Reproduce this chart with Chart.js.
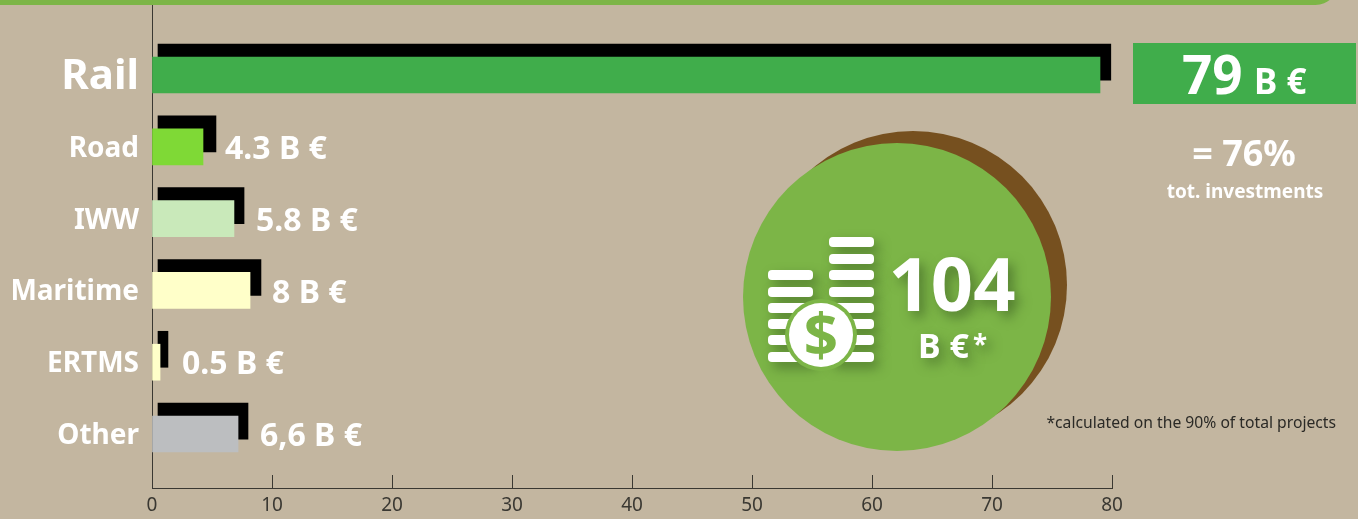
<!DOCTYPE html>
<html>
<head>
<meta charset="utf-8">
<title>Investments</title>
<script src="https://cdn.jsdelivr.net/npm/chart.js@4/dist/chart.umd.min.js"></script>
<style>
  html, body { margin: 0; padding: 0; background: #c3b6a0; overflow: hidden; }
  canvas { display: block; }
</style>
</head>
<body>
<canvas id="chart" width="1358" height="519"></canvas>
<script>
const categories = ['Rail', 'Road', 'IWW', 'Maritime', 'ERTMS', 'Other'];
const barValues = [79, 4.25, 6.83, 8.17, 0.67, 7.17];
const shadowStart = [0.5, 0.5, 0.5, 0.5, 0.5, 0.5];
const shadowEnd = [79.9, 5.33, 7.67, 9.08, 1.33, 8];
const valueLabels = ['', '4.3 B €', '5.8 B €', '8 B €', '0.5 B €', '6,6 B €'];
const barColors = ['#40ad4b', '#7fd936', '#c9e9ba', '#ffffc9', '#ffffc9', '#bcbec0'];
const xTicks = [0, 10, 20, 30, 40, 50, 60, 70, 80];

const FONT = '"Noto Sans", sans-serif';
const shadowShift = -0.18; // black bar sits a bit above the colored one

// band, circle, box and side texts around the plot
const backdrop = {
  id: 'backdrop',
  beforeDatasetsDraw(chart) {
    const c = chart.ctx;
    c.save();
    c.fillStyle = '#7cb547';
    c.beginPath();
    c.roundRect(-40, -40, 1378, 45, 26);
    c.fill();

    c.fillStyle = '#76501f';
    c.beginPath();
    c.arc(913, 285, 154, 0, Math.PI * 2);
    c.fill();
    c.fillStyle = '#7cb547';
    c.beginPath();
    c.arc(897, 297, 154, 0, Math.PI * 2);
    c.fill();

    c.fillStyle = '#40ad4b';
    c.fillRect(1133, 43, 223, 61);
    c.restore();
  },
  afterDraw(chart) {
    const c = chart.ctx;
    c.save();
    c.textBaseline = 'alphabetic';

    // coins icon
    c.shadowColor = 'rgba(50,80,30,0.55)';
    c.shadowBlur = 12;
    c.shadowOffsetX = 5;
    c.shadowOffsetY = 6;
    c.fillStyle = '#ffffff';
    [242, 259, 275, 292, 308, 324, 340, 357].forEach(y => {
      c.beginPath();
      c.roundRect(829, y - 5, 45, 10, 4);
      c.fill();
    });
    [275, 292, 308, 324, 340, 357].forEach(y => {
      c.beginPath();
      c.roundRect(768, y - 5, 45, 10, 4);
      c.fill();
    });
    c.shadowColor = 'transparent';
    c.fillStyle = '#7cb547';
    c.beginPath();
    c.arc(821, 335, 36, 0, Math.PI * 2);
    c.fill();
    c.fillStyle = '#ffffff';
    c.beginPath();
    c.arc(821, 335, 32, 0, Math.PI * 2);
    c.fill();
    c.fillStyle = '#7cb547';
    c.font = 'bold 60px ' + FONT;
    c.textAlign = 'center';
    c.fillText('$', 821, 356);

    // circle texts
    c.shadowColor = 'rgba(50,80,30,0.55)';
    c.shadowBlur = 12;
    c.shadowOffsetX = 5;
    c.shadowOffsetY = 6;
    c.fillStyle = '#ffffff';
    c.textAlign = 'center';
    c.font = 'bold 74px ' + FONT;
    c.fillText('104', 952, 311);
    c.font = 'bold 34px ' + FONT;
    c.textAlign = 'left';
    c.fillText('B €', 918, 358);
    c.font = 'bold 26px ' + FONT;
    c.fillText('*', 973, 354);
    c.shadowColor = 'transparent';

    // right column
    c.textAlign = 'left';
    c.font = 'bold 53px ' + FONT;
    c.fillText('79', 1182, 94);
    c.font = 'bold 35px ' + FONT;
    c.fillText('B €', 1254, 94);
    c.textAlign = 'center';
    c.font = 'bold 36px ' + FONT;
    c.fillText('= 76%', 1244, 166);
    c.font = 'bold 19px ' + FONT;
    c.fillText('tot. investments', 1245, 198);
    c.fillStyle = '#2b2a26';
    c.font = '15.7px ' + FONT;
    c.textAlign = 'right';
    c.fillText('*calculated on the 90% of total projects', 1336, 428);
    c.restore();
  }
};

// value labels at the end of each colored bar
const barLabels = {
  id: 'barLabels',
  afterDatasetsDraw(chart) {
    const c = chart.ctx;
    const meta = chart.getDatasetMeta(1);
    c.save();
    c.fillStyle = '#ffffff';
    c.font = 'bold 32px ' + FONT;
    c.textAlign = 'left';
    c.textBaseline = 'middle';
    meta.data.forEach((bar, i) => {
      if (valueLabels[i]) c.fillText(valueLabels[i], bar.x + 22, bar.y + 3);
    });
    c.restore();
  }
};

// the tick labels must not push the plot area in
function noScalePadding(scale) {
  scale.paddingTop = scale.paddingBottom = scale.paddingLeft = scale.paddingRight = 0;
}

new Chart(document.getElementById('chart'), {
  type: 'bar',
  plugins: [backdrop, barLabels],
  data: {
    datasets: [{
      label: 'shadow',
      data: categories.map((name, i) => ({ x: [shadowStart[i], shadowEnd[i]], y: i + shadowShift })),
      backgroundColor: '#000000',
      barThickness: 36,
      grouped: false,
      order: 2
    }, {
      label: 'Investments',
      data: categories.map((name, i) => ({ x: barValues[i], y: i })),
      backgroundColor: barColors,
      barThickness: 36,
      grouped: false,
      order: 1
    }]
  },
  options: {
    indexAxis: 'y',
    responsive: false,
    animation: false,
    layout: { padding: { top: 5, right: 246 } },
    plugins: { legend: { display: false }, title: { display: false }, tooltip: { enabled: false } },
    scales: {
      x: {
        type: 'linear',
        min: 0,
        max: 80,
        afterBuildTicks: scale => { scale.ticks = xTicks.map(v => ({ value: v })); },
        afterFit: scale => { scale.height = 31; noScalePadding(scale); },
        border: { color: '#3a3832', width: 1 },
        grid: { drawOnChartArea: false, color: '#3a3832', tickLength: -13 },
        ticks: { color: '#3a3832', font: { family: FONT, size: 19 }, padding: 19, maxRotation: 0 }
      },
      y: {
        type: 'linear',
        reverse: true,
        offset: false,
        min: -0.975,
        max: 5.752,
        afterBuildTicks: scale => { scale.ticks = categories.map((name, i) => ({ value: i })); },
        afterFit: scale => { scale.width = 152; noScalePadding(scale); },
        border: { color: '#3a3832', width: 1 },
        grid: { display: false, drawTicks: false },
        ticks: {
          autoSkip: false,
          padding: 13,
          labelOffset: 2,
          color: '#ffffff',
          callback: value => categories[value],
          font: ctx => ({
            family: FONT,
            weight: 'bold',
            size: ctx.tick && ctx.tick.value === 0 ? 42 : 28
          })
        }
      }
    }
  }
});
</script>
</body>
</html>
